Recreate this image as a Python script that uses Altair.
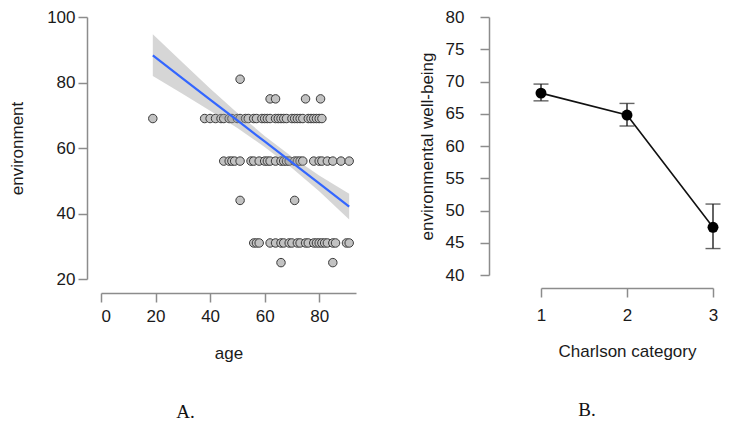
import altair as alt
import pandas as pd

# ---------- Panel A: age vs environment ----------
ages_69 = [19, 38, 40, 42, 44, 45, 47, 48, 50, 51, 53, 54, 56, 57, 59, 60, 61, 62,
           64, 65, 66, 67, 68, 70, 71, 72, 73, 74, 76, 77, 78, 79, 80, 81]
ages_56 = [45, 47, 48, 49, 51, 55, 56, 58, 60, 61, 62, 64, 66, 67, 68, 69, 71, 72,
           73, 74, 78, 80, 81, 83, 85, 88, 91]
ages_31 = [56, 57, 58, 62, 64, 66, 67, 69, 70, 72, 73, 75, 76, 78, 79, 80, 81, 82,
           83, 85, 86, 90, 91]
ages_75 = [62, 64, 75, 80.5]
ages_81 = [51]
ages_44 = [51, 71]
ages_25 = [66, 85]

rows = [(69, ages_69), (56, ages_56), (31, ages_31), (75, ages_75),
        (81, ages_81), (44, ages_44), (25, ages_25)]
pts = pd.DataFrame([{"age": a, "env": v} for v, ages in rows for a in ages])

reg_age = [19, 30, 40, 50, 60, 70, 80, 91]
reg_fit = [88.3, 81.2, 74.8, 68.4, 62.0, 55.6, 49.2, 42.1]
reg_lo = [82.0, 76.5, 71.4, 66.1, 60.3, 53.9, 46.8, 38.2]
reg_hi = [94.7, 86.0, 78.2, 70.7, 63.7, 57.3, 51.6, 46.0]
reg = pd.DataFrame({"age": reg_age, "env": reg_fit, "lo": reg_lo, "hi": reg_hi})

# ---------- Panel B: Charlson category ----------
charlson = [1, 2, 3]
wb_mean = [68.2, 64.8, 47.4]
wb_lo = [67.0, 63.1, 44.1]
wb_hi = [69.6, 66.6, 51.0]
dfb = pd.DataFrame({"cat": charlson, "m": wb_mean, "lo": wb_lo, "hi": wb_hi})

FONT = "Liberation Sans"
TXT = "#1a1a1a"

scA_x = alt.Scale(domain=[0, 93.5], nice=False, zero=False)
scA_y = alt.Scale(domain=[20, 100], nice=False, zero=False)
axA_x = alt.Axis(title="age", values=[0, 20, 40, 60, 80], offset=14,
                 labelPadding=6, titlePadding=21)
axA_y = alt.Axis(title="environment", values=[20, 40, 60, 80, 100], offset=14,
                 labelPadding=3, titlePadding=20)

xA = alt.X("age:Q", scale=scA_x, axis=axA_x)
yA = alt.Y("env:Q", scale=scA_y, axis=axA_y)

pointsA = alt.Chart(pts).mark_point(
    filled=True, shape="circle", size=72, fill="#c2c2c2", fillOpacity=1,
    stroke="#3a3a3a", strokeWidth=1, opacity=1
).encode(x=xA, y=yA)

band = alt.Chart(reg).mark_area(color="#999999", opacity=0.4).encode(
    x=xA, y=alt.Y("lo:Q", scale=scA_y, axis=axA_y), y2="hi:Q")

lineA = alt.Chart(reg).mark_line(color="#3366FF", strokeWidth=2.2).encode(x=xA, y=yA)

panelA = alt.layer(pointsA, band, lineA).properties(
    width=255, height=262,
    title=alt.TitleParams("A.", orient="bottom", font="Liberation Serif", fontSize=19,
                          fontWeight="normal", color="#111111", offset=42, dx=-43,
                          frame="group", anchor="middle"))

scB_x = alt.Scale(type="point", padding=0)
scB_y = alt.Scale(domain=[40, 80], nice=False, zero=False)
axB_x = alt.Axis(title="Charlson category", labelAngle=0, offset=13,
                 labelPadding=10, titlePadding=20)
axB_y = alt.Axis(title="environmental well-being", values=[40, 45, 50, 55, 60, 65, 70, 75, 80],
                 offset=52, labelPadding=16, titlePadding=9)
xB = alt.X("cat:O", scale=scB_x, axis=axB_x)
yB = alt.Y("m:Q", scale=scB_y, axis=axB_y)

lineB = alt.Chart(dfb).mark_line(color="#111111", strokeWidth=1.6).encode(x=xB, y=yB)
errB = alt.Chart(dfb).mark_rule(color="#222222", strokeWidth=1.4).encode(
    x=xB, y=alt.Y("lo:Q", scale=scB_y, axis=axB_y), y2="hi:Q")
capLo = alt.Chart(dfb).mark_tick(orient="horizontal", size=15, thickness=1.4, color="#222222").encode(
    x=xB, y=alt.Y("lo:Q", scale=scB_y, axis=axB_y))
capHi = alt.Chart(dfb).mark_tick(orient="horizontal", size=15, thickness=1.4, color="#222222").encode(
    x=xB, y=alt.Y("hi:Q", scale=scB_y, axis=axB_y))
ptsB = alt.Chart(dfb).mark_point(filled=True, shape="circle", size=120, color="#000000", opacity=1).encode(x=xB, y=yB)

panelB = alt.layer(errB, capLo, capHi, lineB, ptsB).properties(
    width=172, height=258,
    title=alt.TitleParams("B.", orient="bottom", font="Liberation Serif", fontSize=19,
                          fontWeight="normal", color="#111111", offset=42, dx=-40,
                          frame="group", anchor="middle"))

chart = alt.hconcat(panelA, panelB, spacing=62).properties(
    padding={"left": 0, "top": 0, "right": 0, "bottom": 0},
    background="white"
).configure_view(stroke=None).configure_axis(
    grid=False, domainColor="#8c8c8c", domainWidth=1.5, tickColor="#8c8c8c", tickWidth=1.5,
    tickSize=9, labelFont=FONT, labelFontSize=17, labelColor=TXT,
    titleFont=FONT, titleFontSize=17, titleFontWeight="normal", titleColor=TXT
)

chart.save("out.html", embed_options={"renderer": "svg", "actions": False})
